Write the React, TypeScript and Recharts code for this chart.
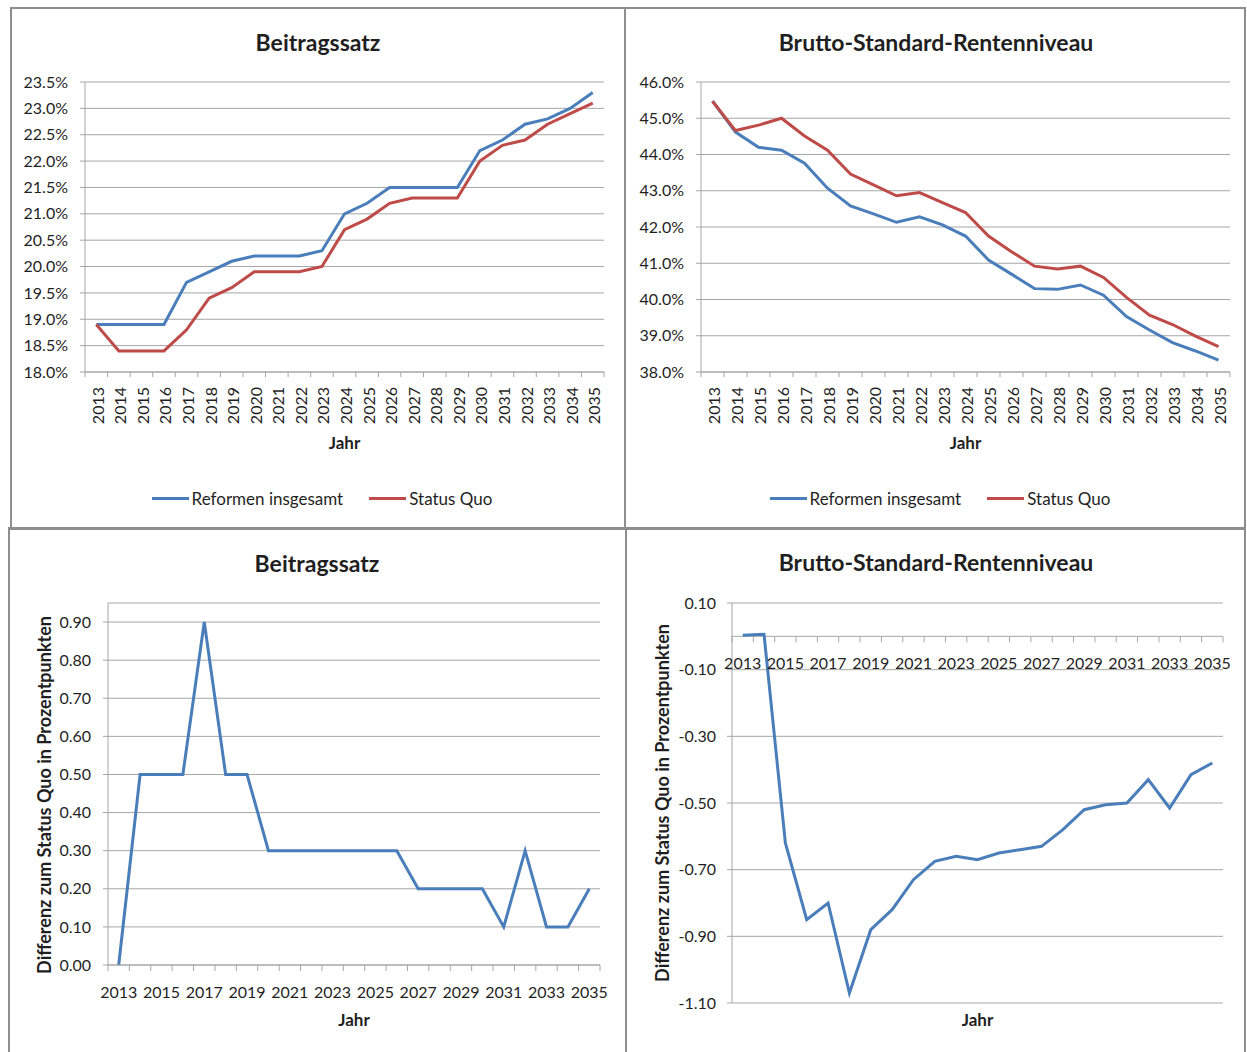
import React from 'react';
import { LineChart, Line, XAxis, YAxis, CartesianGrid, ReferenceLine } from 'recharts';

// categories
const years = [
  '2013', '2014', '2015', '2016', '2017', '2018', '2019', '2020', '2021', '2022', '2023', '2024',
  '2025', '2026', '2027', '2028', '2029', '2030', '2031', '2032', '2033', '2034', '2035',
];

// Beitragssatz in %
const beitragReformen = [
  18.9, 18.9, 18.9, 18.9, 19.7, 19.9, 20.1, 20.2, 20.2, 20.2, 20.3, 21.0,
  21.2, 21.5, 21.5, 21.5, 21.5, 22.2, 22.4, 22.7, 22.8, 23.0, 23.3,
];
const beitragStatusQuo = [
  18.9, 18.4, 18.4, 18.4, 18.8, 19.4, 19.6, 19.9, 19.9, 19.9, 20.0, 20.7,
  20.9, 21.2, 21.3, 21.3, 21.3, 22.0, 22.3, 22.4, 22.7, 22.9, 23.1,
];

// Brutto-Standard-Rentenniveau in %
const rentenReformen = [
  45.47, 44.62, 44.2, 44.12, 43.76, 43.07, 42.58, 42.36, 42.13, 42.28, 42.06, 41.75,
  41.09, 40.7, 40.3, 40.28, 40.4, 40.12, 39.53, 39.16, 38.81, 38.58, 38.33,
];
const rentenStatusQuo = [
  45.47, 44.66, 44.81, 45.0, 44.51, 44.12, 43.46, 43.16, 42.86, 42.95, 42.67, 42.4,
  41.75, 41.32, 40.92, 40.84, 40.92, 40.61, 40.06, 39.57, 39.31, 38.99, 38.7,
];

// Differenz zum Status Quo in Prozentpunkten
const beitragDiff = [
  0.0, 0.5, 0.5, 0.5, 0.9, 0.5, 0.5, 0.3, 0.3, 0.3, 0.3, 0.3,
  0.3, 0.3, 0.2, 0.2, 0.2, 0.2, 0.1, 0.3, 0.1, 0.1, 0.2,
];
const rentenDiff = [
  0.003, 0.006, -0.62, -0.85, -0.8, -1.07, -0.88, -0.82, -0.73, -0.675, -0.66, -0.67,
  -0.65, -0.64, -0.63, -0.58, -0.52, -0.505, -0.5, -0.43, -0.515, -0.415, -0.38,
];

const beitragTicks = [18, 18.5, 19, 19.5, 20, 20.5, 21, 21.5, 22, 22.5, 23, 23.5];
const rentenTicks = [38, 39, 40, 41, 42, 43, 44, 45, 46];
const beitragDiffTicks = [0, 0.1, 0.2, 0.3, 0.4, 0.5, 0.6, 0.7, 0.8, 0.9];
const rentenDiffTicks = [0.1, -0.1, -0.3, -0.5, -0.7, -0.9, -1.1];

const beitragData = years.map((jahr, i) => ({
  jahr,
  reformen: beitragReformen[i],
  statusQuo: beitragStatusQuo[i],
}));
const rentenData = years.map((jahr, i) => ({
  jahr,
  reformen: rentenReformen[i],
  statusQuo: rentenStatusQuo[i],
}));
const beitragDiffData = years.map((jahr, i) => ({ jahr, diff: beitragDiff[i] }));
const rentenDiffData = years.map((jahr, i) => ({ jahr, diff: rentenDiff[i] }));

const FONT = 'Lato, "Open Sans", sans-serif';
const BLUE = '#4a7ebb';
const RED = '#be4b48';
const GRID = '#a6a6a6';
const BORDER = '#8e8e8e';
const TEXT = '#1f1f1f';

const tickStyle = { fill: TEXT, fontSize: 16, fontFamily: FONT };

function AxisTitle(props: any) {
  const { viewBox, text, dy } = props;
  const cx = viewBox.x + viewBox.width / 2;
  return (
    <text x={cx} y={viewBox.y + dy} textAnchor="middle" fontSize={17} fontWeight={700} fill={TEXT} fontFamily={FONT}>
      {text}
    </text>
  );
}

function VerticalTitle(props: any) {
  const { viewBox, text, dx, dy } = props;
  const cx = viewBox.x + dx;
  const cy = viewBox.y + viewBox.height / 2 + dy;
  return (
    <text
      x={cx}
      y={cy}
      transform={`rotate(-90 ${cx} ${cy})`}
      textAnchor="middle"
      dominantBaseline="central"
      fontSize={18}
      fontWeight={700}
      fill={TEXT}
      fontFamily={FONT}
    >
      {text}
    </text>
  );
}

// rotated year labels with tick marks between categories
function RotatedYearTick(props: any) {
  const { x, y, payload, index, half } = props;
  const ty = y + 15;
  return (
    <g>
      <line x1={x - half} x2={x - half} y1={y} y2={y + 5} stroke={GRID} />
      {index === years.length - 1 && <line x1={x + half} x2={x + half} y1={y} y2={y + 5} stroke={GRID} />}
      <text
        x={x + 1}
        y={ty}
        transform={`rotate(-90 ${x + 1} ${ty})`}
        textAnchor="end"
        dominantBaseline="central"
        {...tickStyle}
      >
        {payload.value}
      </text>
    </g>
  );
}

// every second year label, tick marks between all categories
function SparseYearTick(props: any) {
  const { x, payload, index, half, axisY } = props;
  return (
    <g>
      <line x1={x - half} x2={x - half} y1={axisY} y2={axisY + 6} stroke={GRID} />
      {index === years.length - 1 && <line x1={x + half} x2={x + half} y1={axisY} y2={axisY + 6} stroke={GRID} />}
      {index % 2 === 0 && (
        <text x={x} y={axisY + 33} textAnchor="middle" {...tickStyle}>
          {payload.value}
        </text>
      )}
    </g>
  );
}

function Legend({ left, width }: { left: number; width: number }) {
  const item = (color: string, label: string) => (
    <div style={{ display: 'flex', alignItems: 'center', margin: '0 13px' }}>
      <div style={{ width: 37, height: 3, background: color, marginRight: 3 }} />
      <span>{label}</span>
    </div>
  );
  return (
    <div
      style={{
        position: 'absolute',
        left: left + 4,
        width,
        top: 486,
        height: 24,
        display: 'flex',
        justifyContent: 'center',
        alignItems: 'center',
        fontSize: 17,
        color: TEXT,
      }}
    >
      {item(BLUE, 'Reformen insgesamt')}
      {item(RED, 'Status Quo')}
    </div>
  );
}

function Title({ left, width, top, text }: { left: number; width: number; top: number; text: string }) {
  return (
    <div
      style={{
        position: 'absolute',
        left,
        width,
        top,
        height: 28,
        lineHeight: '28px',
        textAlign: 'center',
        fontSize: 23,
        fontWeight: 700,
        color: TEXT,
      }}
    >
      {text}
    </div>
  );
}

const box = (left: number, top: number, width: number, height: number): React.CSSProperties => ({
  position: 'absolute',
  left,
  top,
  width,
  height,
});

export default function App() {
  // top-left
  const tlW = 616;
  const tlH = 520;
  const tlHalf = (tlW - 75 - 22) / years.length / 2;
  // top-right
  const trW = 620;
  const trH = 520;
  const trHalf = (trW - 75 - 16) / years.length / 2;
  // bottom-left
  const blW = 618;
  const blH = 524;
  const blHalf = (blW - 100 - 26) / years.length / 2;
  // bottom-right
  const brW = 620;
  const brH = 524;
  const brHalf = (brW - 106 - 23) / years.length / 2;
  const brTop = 75;
  const brPlotH = 400;
  const brZeroY = brTop + (brPlotH * 0.1) / 1.2;

  const lines = [
    <div key="b1" style={{ ...box(10, 7, 1236, 2), background: BORDER }} />,
    <div key="b2" style={{ ...box(10, 7, 2, 522), background: BORDER }} />,
    <div key="b3" style={{ ...box(624, 7, 2, 522), background: BORDER }} />,
    <div key="b4" style={{ ...box(1244, 7, 2, 522), background: BORDER }} />,
    <div key="b5" style={{ ...box(8, 527, 1238, 3), background: BORDER }} />,
    <div key="b6" style={{ ...box(8, 527, 2, 525), background: BORDER }} />,
    <div key="b7" style={{ ...box(625, 527, 2, 525), background: BORDER }} />,
    <div key="b8" style={{ ...box(1244, 527, 2, 525), background: BORDER }} />,
  ];

  return (
    <div style={{ position: 'absolute', left: 0, top: 0, width: 1247, height: 1052, background: '#fff', fontFamily: FONT, overflow: 'hidden' }}>
      {/* top-left: Beitragssatz */}
      <div style={box(10, 8, tlW, tlH)}>
        <LineChart width={tlW} height={tlH} data={beitragData} margin={{ top: 74, right: 22, left: 0, bottom: 0 }}>
          <CartesianGrid vertical={false} stroke={GRID} />
          <XAxis
            dataKey="jahr"
            scale="point"
            padding={{ left: tlHalf, right: tlHalf }}
            interval={0}
            height={156}
            tickSize={0}
            tickMargin={0}
            tickLine={false}
            axisLine={{ stroke: GRID }}
            tick={(p: any) => <RotatedYearTick {...p} half={tlHalf} />}
            label={<AxisTitle text="Jahr" dy={77} />}
          />
          <YAxis
            width={75}
            domain={[18, 23.5]}
            ticks={beitragTicks}
            tickFormatter={(v: number) => `${v.toFixed(1)}%`}
            tick={tickStyle}
            tickSize={5}
            tickMargin={12}
            tickLine={{ stroke: GRID }}
            axisLine={{ stroke: GRID }}
          />
          <Line dataKey="reformen" stroke={BLUE} strokeWidth={3} dot={false} isAnimationActive={false} />
          <Line dataKey="statusQuo" stroke={RED} strokeWidth={3} dot={false} isAnimationActive={false} />
        </LineChart>
      </div>

      {/* top-right: Brutto-Standard-Rentenniveau */}
      <div style={box(626, 8, trW, trH)}>
        <LineChart width={trW} height={trH} data={rentenData} margin={{ top: 74, right: 16, left: 0, bottom: 0 }}>
          <CartesianGrid vertical={false} stroke={GRID} />
          <XAxis
            dataKey="jahr"
            scale="point"
            padding={{ left: trHalf, right: trHalf }}
            interval={0}
            height={156}
            tickSize={0}
            tickMargin={0}
            tickLine={false}
            axisLine={{ stroke: GRID }}
            tick={(p: any) => <RotatedYearTick {...p} half={trHalf} />}
            label={<AxisTitle text="Jahr" dy={77} />}
          />
          <YAxis
            width={75}
            domain={[38, 46]}
            ticks={rentenTicks}
            tickFormatter={(v: number) => `${v.toFixed(1)}%`}
            tick={tickStyle}
            tickSize={5}
            tickMargin={12}
            tickLine={{ stroke: GRID }}
            axisLine={{ stroke: GRID }}
          />
          <Line dataKey="reformen" stroke={BLUE} strokeWidth={3} dot={false} isAnimationActive={false} />
          <Line dataKey="statusQuo" stroke={RED} strokeWidth={3} dot={false} isAnimationActive={false} />
        </LineChart>
      </div>

      {/* bottom-left: Beitragssatz difference */}
      <div style={box(8, 528, blW, blH)}>
        <LineChart width={blW} height={blH} data={beitragDiffData} margin={{ top: 75, right: 26, left: 0, bottom: 0 }}>
          <CartesianGrid vertical={false} stroke={GRID} />
          <XAxis
            dataKey="jahr"
            scale="point"
            padding={{ left: blHalf, right: blHalf }}
            interval={0}
            height={87}
            tickSize={0}
            tickMargin={0}
            tickLine={false}
            axisLine={{ stroke: GRID }}
            tick={(p: any) => <SparseYearTick {...p} half={blHalf} axisY={437} />}
            label={<AxisTitle text="Jahr" dy={61} />}
          />
          <YAxis
            width={100}
            domain={[0, 0.95]}
            ticks={beitragDiffTicks}
            tickFormatter={(v: number) => v.toFixed(2)}
            tick={tickStyle}
            tickSize={5}
            tickMargin={12}
            tickLine={{ stroke: GRID }}
            axisLine={{ stroke: GRID }}
            label={<VerticalTitle text="Differenz zum Status Quo in Prozentpunkten" dx={36} dy={11} />}
          />
          <Line dataKey="diff" stroke={BLUE} strokeWidth={3} dot={false} isAnimationActive={false} />
        </LineChart>
      </div>

      {/* bottom-right: Rentenniveau difference */}
      <div style={box(626, 528, brW, brH)}>
        <LineChart width={brW} height={brH} data={rentenDiffData} margin={{ top: brTop, right: 23, left: 0, bottom: 0 }}>
          <CartesianGrid vertical={false} stroke={GRID} />
          <ReferenceLine y={0} stroke={GRID} strokeWidth={1} />
          <XAxis
            dataKey="jahr"
            scale="point"
            padding={{ left: brHalf, right: brHalf }}
            interval={0}
            height={49}
            tickSize={0}
            tickMargin={0}
            tickLine={false}
            axisLine={false}
            tick={(p: any) => <SparseYearTick {...p} half={brHalf} axisY={brZeroY} />}
            label={<AxisTitle text="Jahr" dy={23} />}
          />
          <YAxis
            width={106}
            domain={[-1.1, 0.1]}
            ticks={rentenDiffTicks}
            tickFormatter={(v: number) => v.toFixed(2)}
            tick={tickStyle}
            tickSize={5}
            tickMargin={11}
            tickLine={{ stroke: GRID }}
            axisLine={{ stroke: GRID }}
            label={<VerticalTitle text="Differenz zum Status Quo in Prozentpunkten" dx={36} dy={0} />}
          />
          <Line dataKey="diff" stroke={BLUE} strokeWidth={3} dot={false} isAnimationActive={false} />
        </LineChart>
      </div>

      <Title left={10} width={616} top={28} text="Beitragssatz" />
      <Title left={626} width={620} top={28} text="Brutto-Standard-Rentenniveau" />
      <Title left={8} width={618} top={549} text="Beitragssatz" />
      <Title left={626} width={620} top={548} text="Brutto-Standard-Rentenniveau" />

      <Legend left={10} width={616} />
      <Legend left={626} width={620} />

      {lines}
    </div>
  );
}
